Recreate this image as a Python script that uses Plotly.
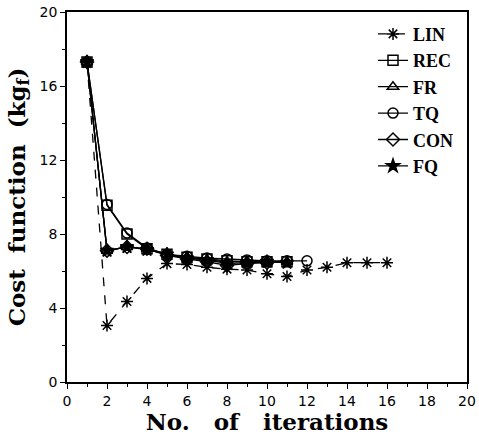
import plotly.graph_objects as go

x_lin = [1, 2, 3, 4, 5, 6, 7, 8, 9, 10, 11, 12, 13, 14, 15, 16]
y_lin = [17.3, 3.05, 4.35, 5.6, 6.4, 6.35, 6.2, 6.1, 6.05, 5.85, 5.7, 6.05, 6.2, 6.45, 6.45, 6.45]

x_rec = [1, 2, 3, 4, 5, 6, 7, 8, 9, 10, 11]
y_rec = [17.3, 9.55, 8.0, 7.2, 6.9, 6.75, 6.65, 6.55, 6.5, 6.5, 6.5]

x_fr = [1, 2, 3, 4, 5, 6, 7, 8, 9, 10, 11]
y_fr = [17.3, 7.1, 7.3, 7.2, 6.9, 6.7, 6.6, 6.5, 6.5, 6.5, 6.5]

x_tq = [1, 2, 3, 4, 5, 6, 7, 8, 9, 10, 11, 12]
y_tq = [17.3, 9.6, 8.05, 7.25, 6.9, 6.8, 6.7, 6.65, 6.6, 6.55, 6.55, 6.55]

x_con = [1, 2, 3, 4, 5, 6, 7, 8, 9, 10]
y_con = [17.3, 7.1, 7.3, 7.2, 6.85, 6.65, 6.5, 6.3, 6.4, 6.45]

x_fq = [1, 2, 3, 4, 5, 6, 7, 8, 9, 10, 11]
y_fq = [17.3, 7.1, 7.3, 7.15, 6.9, 6.7, 6.6, 6.4, 6.45, 6.5, 6.45]

series = [
    ("LIN", x_lin, y_lin, "asterisk-open", "dash"),
    ("REC", x_rec, y_rec, "square-open", "solid"),
    ("FR", x_fr, y_fr, "triangle-up-open", "solid"),
    ("TQ", x_tq, y_tq, "circle-open", "solid"),
    ("CON", x_con, y_con, "diamond-open", "solid"),
    ("FQ", x_fq, y_fq, "star", "solid"),
]

fig = go.Figure()
for name, xs, ys, sym, dash in series:
    fig.add_trace(go.Scatter(
        x=xs, y=ys, name=name, mode="lines+markers",
        line=dict(color="black", width=1.3, dash=dash),
        marker=dict(symbol=sym, size=10, color="black",
                    line=dict(color="black", width=1.5)),
    ))

axis_common = dict(
    showline=True, linecolor="black", linewidth=1.5, mirror=True,
    ticks="outside", ticklen=5, tickwidth=1, tickcolor="black",
    showgrid=False, zeroline=False, automargin=False,
    tickfont=dict(family="DejaVu Sans", size=14, color="black"),
    minor=dict(ticks="outside", ticklen=3, tickwidth=1, tickcolor="black"),
)

title_font = dict(family="DejaVu Serif", size=23, color="black", weight="bold")

fig.update_layout(
    width=479, height=435,
    margin=dict(l=67, r=12, t=12, b=53),
    paper_bgcolor="white", plot_bgcolor="white",
    showlegend=True,
    legend=dict(
        x=0.765, y=0.99, xanchor="left", yanchor="top",
        bgcolor="rgba(0,0,0,0)",
        font=dict(family="Liberation Serif", size=18, color="black", weight="bold"),
        tracegroupgap=0, itemwidth=30,
    ),
    xaxis=dict(range=[0, 20], dtick=2, tick0=0,
               title=dict(text="No.   of   iterations", standoff=4, font=title_font),
               **axis_common),
    yaxis=dict(range=[0, 20], dtick=4, tick0=0,
               title=dict(text="Cost  function  (kg<sub>f</sub>)", standoff=8, font=title_font),
               **axis_common),
)
fig.update_xaxes(minor_dtick=1)
fig.update_yaxes(minor_dtick=2)

fig.write_html("out.html")
